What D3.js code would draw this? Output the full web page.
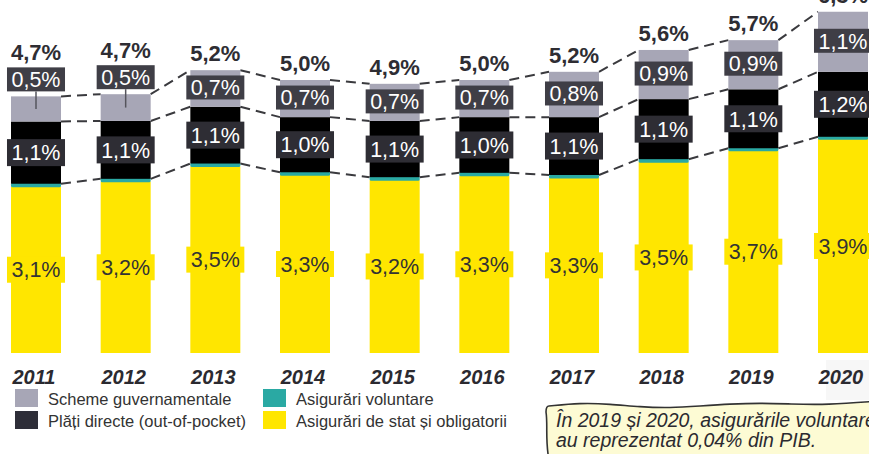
<!DOCTYPE html>
<html><head><meta charset="utf-8">
<script src="https://cdn.jsdelivr.net/npm/d3@7"></script>
<style>
html,body{margin:0;padding:0;background:#fff;overflow:hidden;}
svg{display:block;font-family:"Liberation Sans",Arial,sans-serif;}
</style></head>
<body><svg id="c" width="869" height="454"></svg>
<script>
// ---- data ----
const years = ["2011","2012","2013","2014","2015","2016","2017","2018","2019","2020"];
const stateIns = [3.05,3.14,3.42,3.26,3.17,3.25,3.21,3.50,3.71,3.92];
const voluntary = [0.05,0.05,0.05,0.05,0.05,0.05,0.05,0.05,0.04,0.04];
const outOfPocket = [1.14,1.06,1.04,1.01,1.03,1.02,1.06,1.10,1.08,1.19];
const govSchemes = [0.46,0.49,0.67,0.68,0.68,0.68,0.83,0.90,0.90,1.10];
const stateLabels = ["3,1%","3,2%","3,5%","3,3%","3,2%","3,3%","3,3%","3,5%","3,7%","3,9%"];
const oopLabels = ["1,1%","1,1%","1,1%","1,0%","1,1%","1,0%","1,1%","1,1%","1,1%","1,2%"];
const govLabels = ["0,5%","0,5%","0,7%","0,7%","0,7%","0,7%","0,8%","0,9%","0,9%","1,1%"];
const totalLabels = ["4,7%","4,7%","5,2%","5,0%","4,9%","5,0%","5,2%","5,6%","5,7%","6,3%"];
const seriesNames = ["Scheme guvernamentale","Asigurări voluntare","Plăți directe (out-of-pocket)","Asigurări de stat și obligatorii"];
const noteLines = ["În 2019 și 2020, asigurările voluntare","au reprezentat 0,04% din PIB."];

// ---- build ----
const keys = ["state","vol","oop","gov"];
const colors = {state:"#FFE600", vol:"#2AA9A3", oop:"#000000", gov:"#A7A6B6"};
const legendColors = ["#A7A6B6","#2AA9A3","#2E2E38","#FFE600"];
const rows = years.map((y,i)=>({year:y, state:stateIns[i], vol:voluntary[i], oop:outOfPocket[i], gov:govSchemes[i]}));
const stacked = d3.stack().keys(keys)(rows);

const svg = d3.select("#c");
const barW = 50;
const x = d3.scalePoint().domain(years).range([36, 843]);
const y = d3.scaleLinear().domain([0, 6.4]).range([353, 353 - 6.4*54.6]);

// faint pasted backdrop near 2020
svg.append("rect").attr("x",826).attr("y",360).attr("width",43).attr("height",40).attr("fill","#f7f7f7");

// connectors
const conn = svg.append("g").attr("stroke","#3a3a3e").attr("stroke-width",2).attr("stroke-dasharray","10,6").attr("fill","none");
[1,2,3].forEach(k=>{
  const layer = stacked[k];
  for(let i=0;i<years.length-1;i++){
    conn.append("line")
      .attr("x1", x(years[i])+barW/2).attr("y1", y(layer[i][1]))
      .attr("x2", x(years[i+1])-barW/2).attr("y2", y(layer[i+1][1]));
  }
});

// bars
stacked.forEach(layer=>{
  const key = layer.key;
  svg.append("g").selectAll("rect").data(layer).join("rect")
    .attr("x", d=>x(d.data.year)-barW/2)
    .attr("width", barW)
    .attr("y", d=>y(d[1]) - (key==="vol"?0.8:0))
    .attr("height", d=>y(d[0])-y(d[1]) + (key==="vol"?1.6:0))
    .attr("fill", colors[key])
    .attr("rx", key==="vol"?1.5:0);
});

// labels with boxes
function boxLabel(g, cx, cy, text, bg, fg, h){
  const grp = g.append("g");
  const rect = grp.append("rect").attr("fill",bg);
  const t = grp.append("text").attr("x",cx).attr("y",cy).attr("dy","0.36em")
    .attr("text-anchor","middle").attr("font-size",21.5).attr("fill",fg).text(text);
  const w = t.node().getComputedTextLength() + 9;
  rect.attr("x",cx-w/2).attr("y",cy-h/2).attr("width",w).attr("height",h);
}
const lab = svg.append("g");
// yellow
stacked[0].forEach((d,i)=>{
  boxLabel(lab, x(years[i]), (y(d[0])+y(d[1]))/2, stateLabels[i], "#FFE600", "#333333", 26);
});
// black
stacked[2].forEach((d,i)=>{
  boxLabel(lab, x(years[i]), (y(d[0])+y(d[1]))/2, oopLabels[i], "#2E2D34", "#FFFFFF", 27);
});
// gray
stacked[3].forEach((d,i)=>{
  const cx = x(years[i]);
  const mid = (y(d[0])+y(d[1]))/2;
  if(i<2){
    const cy = y(d[1]) - 17;
    lab.append("line").attr("x1",cx).attr("x2",cx).attr("y1",cy+12).attr("y2",mid).attr("stroke","#55545c").attr("stroke-width",1.5);
    boxLabel(lab, cx, cy, govLabels[i], "#3F3E46", "#FFFFFF", 24);
  } else {
    boxLabel(lab, cx, mid - 1, govLabels[i], "#3F3E46", "#FFFFFF", 24);
  }
});
// totals
stacked[3].forEach((d,i)=>{
  const top = i<2 ? y(d[1]) - 36 : y(d[1]) - 9;
  lab.append("text").attr("x",x(years[i])).attr("y",top).attr("text-anchor","middle")
    .attr("font-size",22).attr("font-weight","bold").attr("fill","#2E2D33").text(totalLabels[i]);
});

// x axis labels
svg.append("g").selectAll("text").data(years).join("text")
  .attr("x", d=>x(d)-2).attr("y",384).attr("text-anchor","middle")
  .attr("font-size",20).attr("font-weight","bold").attr("font-style","italic").attr("fill","#2B2A30")
  .text(d=>d);

// legend
const leg = svg.append("g");
const legPos = [[15,389],[263,389],[15,411],[263,411]];
seriesNames.forEach((n,i)=>{
  leg.append("rect").attr("x",legPos[i][0]).attr("y",legPos[i][1]).attr("width",23).attr("height",18).attr("fill",legendColors[i]);
  leg.append("text").attr("x",legPos[i][0]+33).attr("y",legPos[i][1]+15.5).attr("font-size",16.5).attr("fill","#333").text(n);
});

// note box
const waveTop = [[549,406],[580,403],[610,404],[640,407],[670,408],[700,406],[730,404],[760,403],[790,404],[826,405],[880,401]];
const lineGen = d3.line().curve(d3.curveBasis);
const topStr = lineGen(waveTop);
const leftStr = "M549,460 C545,440 548,425 546,412 Q546,406 549,406";
svg.append("path")
  .attr("d", leftStr + " " + topStr.replace(/^M[^C]*/, "") + " L880,460 Z")
  .attr("fill","#FDFBD4").attr("stroke","none");
svg.append("path").attr("d", topStr).attr("fill","none").attr("stroke","#333").attr("stroke-width",1.6);
svg.append("path").attr("d", leftStr).attr("fill","none").attr("stroke","#333").attr("stroke-width",1.6);
noteLines.forEach((t,i)=>{
  svg.append("text").attr("x",556).attr("y",427+i*20).attr("font-size",19.5).attr("font-style","italic").attr("fill","#2B2A30").text(t);
});
</script></body></html>
